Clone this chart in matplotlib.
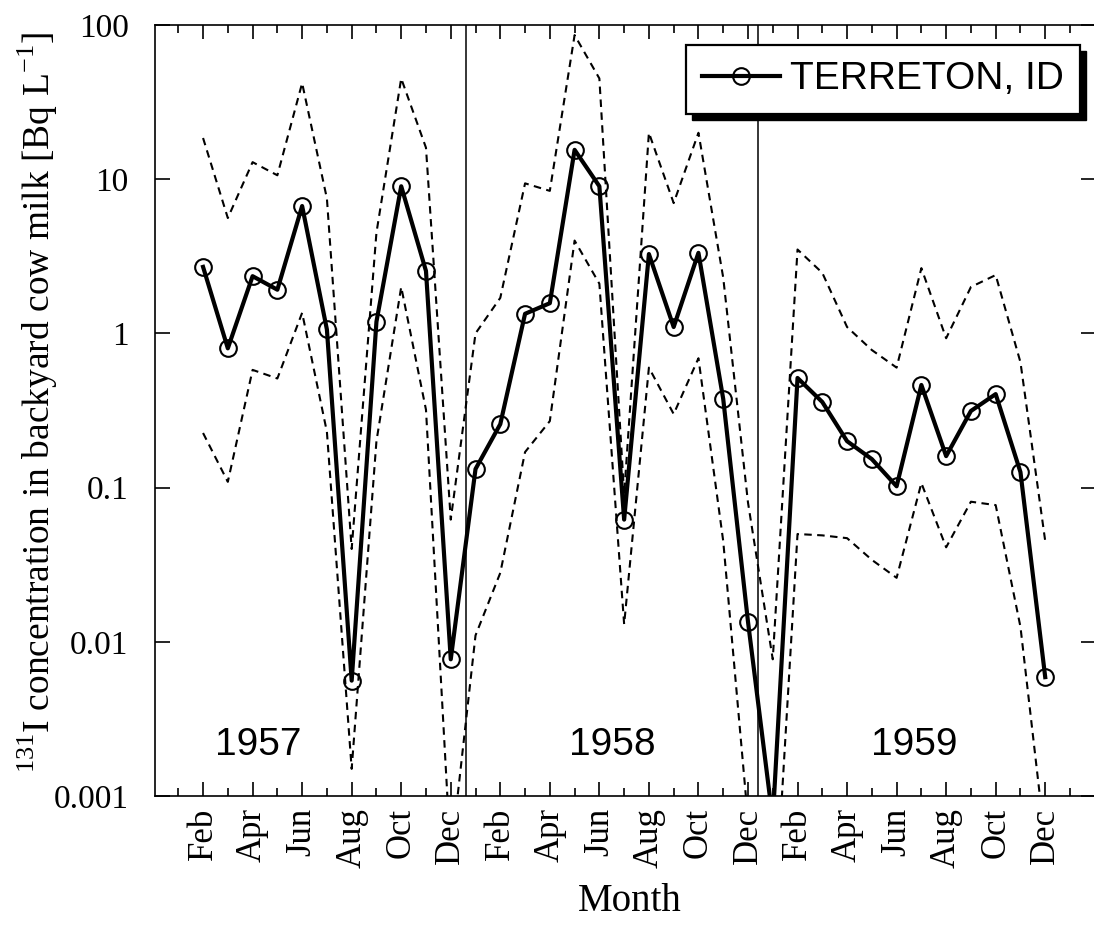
"""
Monthly 131I concentration in backyard cow milk at Terreton, ID (1957-1959),
with upper and lower bounds as dashed lines.
"""
import matplotlib
matplotlib.use('Agg')
import matplotlib.pyplot as plt
from matplotlib.patches import Rectangle
from matplotlib.transforms import IdentityTransform
from matplotlib.ticker import NullLocator
import numpy as np

plt.rcParams['font.family'] = 'Liberation Serif'
plt.rcParams['mathtext.fontset'] = 'custom'
plt.rcParams['mathtext.rm'] = 'Liberation Serif'

# Feb 1957 .. Dec 1959, one value per month (Bq/L)
month_names = ['Jan', 'Feb', 'Mar', 'Apr', 'May', 'Jun',
               'Jul', 'Aug', 'Sep', 'Oct', 'Nov', 'Dec']
years = ['1957', '1958', '1959']

terreton = [2.7, 0.80, 2.35, 1.92, 6.7, 1.06, 0.0056, 1.19, 9.0, 2.54, 0.0077,
            0.132, 0.258, 1.34, 1.57, 15.5, 9.0, 0.062, 3.27, 1.10, 3.33, 0.376, 0.0135,
            0.0007, 0.514, 0.359, 0.20, 0.153, 0.102, 0.463, 0.160, 0.314, 0.404, 0.126, 0.0059]

upper = [18.5, 5.6, 12.9, 10.6, 42, 7.5, 0.04, 4.5, 45, 16, 0.062,
         1.0, 1.7, 9.4, 8.4, 86, 45, 0.09, 20, 7.0, 20, 2.3, 0.08,
         0.0077, 3.5, 2.47, 1.1, 0.78, 0.6, 2.65, 0.93, 2.0, 2.39, 0.65, 0.045]

lower = [0.226, 0.109, 0.58, 0.51, 1.36, 0.23, 0.0015, 0.2, 2.0, 0.32, 0.0004,
         0.011, 0.028, 0.17, 0.27, 4.0, 2.1, 0.013, 0.6, 0.30, 0.69, 0.045, 0.0007,
         0.0001, 0.050, 0.049, 0.047, 0.034, 0.026, 0.107, 0.041, 0.081, 0.077, 0.0125, 0.0005]

year_breaks = [10.6, 22.4]
yticks = [0.001, 0.01, 0.1, 1, 10, 100]
ytick_labels = ['0.001', '0.01', '0.1', '1', '10', '100']

x = np.arange(len(terreton))
# month label for each point, starting at Feb
labels = [month_names[(i + 1) % 12] for i in x]

fig = plt.figure(figsize=(10.94, 9.26), dpi=100)
ax = fig.add_axes([155 / 1094, 130 / 926, 941 / 1094, 771 / 926])

dash = (0, (3.6, 2.6))
ax.plot(x, upper, color='k', lw=1.5, ls=dash)
ax.plot(x, lower, color='k', lw=1.5, ls=dash)
ax.plot(x, terreton, '-o', color='k', lw=3.0, ms=12, mfc='none', mew=1.5,
        label='TERRETON, ID')

for xb in year_breaks:
    ax.axvline(xb, color='k', lw=1.1)

ax.set_yscale('log')
ax.set_ylim(1e-3, 100)
ax.set_xlim(-1.94, 36.05)

ax.set_yticks(yticks)
ax.set_yticklabels(ytick_labels)
ax.yaxis.set_minor_locator(NullLocator())

major = x[::2]
ax.set_xticks(major)
ax.set_xticklabels([labels[i] for i in major])
ax.set_xticks([i for i in range(-1, 36) if i not in set(major)], minor=True)

ax.tick_params(axis='both', which='both', direction='in', top=True, right=True, width=1.2)
ax.tick_params(axis='x', which='major', length=10, pad=8.6, labelsize=25, labelrotation=90)
ax.tick_params(axis='x', which='minor', length=5.5)
ax.tick_params(axis='y', which='major', length=11, pad=19, labelsize=24)
for s in ax.spines.values():
    s.set_linewidth(1.2)

ax.set_xlabel('Month', fontsize=28)
ax.set_ylabel(r'$^{131}$I concentration in backyard cow milk [Bq L$^{-1}$]', fontsize=27)
ax.xaxis.set_label_coords(0.504, -0.113)
ax.yaxis.set_label_coords(-0.101, 0.51)

# year captions along the bottom
for yr, xf in zip(years, [0.110, 0.486, 0.807]):
    ax.text(xf, 0.066, yr, transform=ax.transAxes, ha='center', va='center',
            family='Liberation Sans', fontsize=28)

leg = ax.legend(loc='upper right', bbox_to_anchor=(0.983, 0.974), borderaxespad=0,
                prop={'family': 'Liberation Sans', 'size': 28}, fancybox=False,
                edgecolor='k', framealpha=1, borderpad=0.42, handlelength=2.0,
                handletextpad=0.25)
leg.get_frame().set_linewidth(1.6)

# solid black drop shadow under the legend box
fig.canvas.draw()
bb = leg.get_frame().get_window_extent()
ax.add_artist(Rectangle((bb.x0 + 6, bb.y0 - 6), bb.width, bb.height,
                        transform=IdentityTransform(), color='k', zorder=4.9,
                        clip_on=False))

fig.savefig('out.png', dpi=100)
